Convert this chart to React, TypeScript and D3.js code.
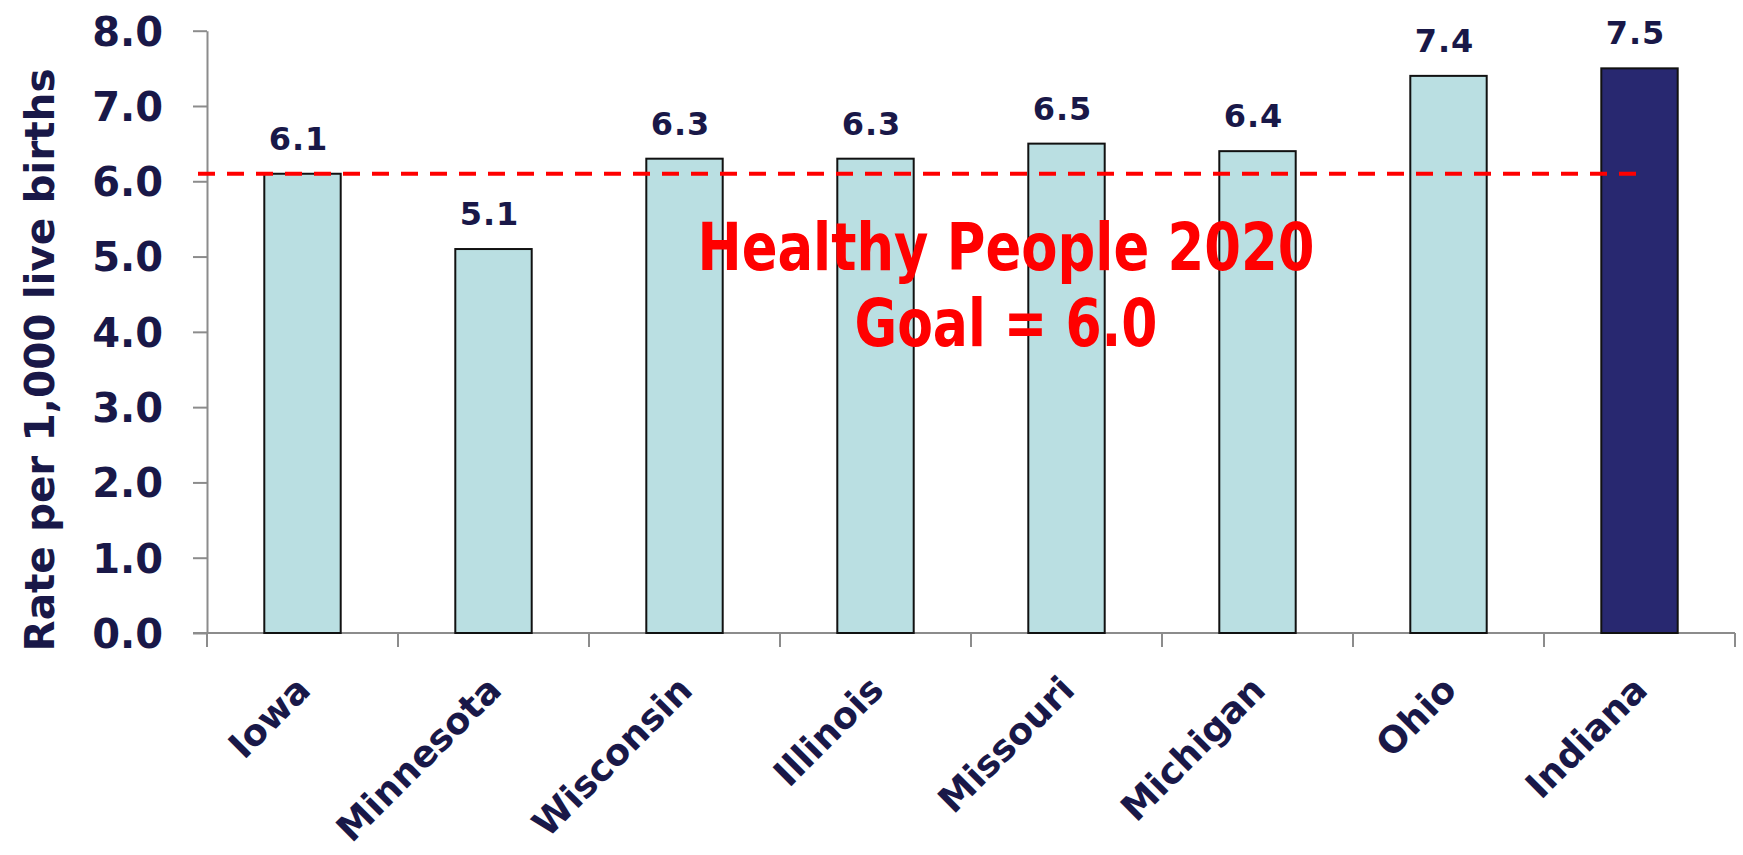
import React, { useEffect, useRef } from 'react';
import * as d3 from 'd3';

const states = ['Iowa', 'Minnesota', 'Wisconsin', 'Illinois', 'Missouri', 'Michigan', 'Ohio', 'Indiana'];
const rates = [6.1, 5.1, 6.3, 6.3, 6.5, 6.4, 7.4, 7.5];
const highlighted = ['Indiana'];
const yTicks = [0, 1, 2, 3, 4, 5, 6, 7, 8];
const goalLine = 6.1; // where the dashed line sits in the picture
const goalText = ['Healthy People 2020', 'Goal = 6.0'];
const yTitle = 'Rate per 1,000 live births';

const NAVY = '#191848';

function App() {
  const ref = useRef<SVGSVGElement | null>(null);

  useEffect(() => {
    if (!ref.current) return;
    const svg = d3.select(ref.current);
    svg.selectAll('*').remove();

    const W = 1743;
    const H = 855;
    const left = 207;
    const right = 1735;
    const top = 30.7;
    const bottom = 633;
    const font = 'DejaVu Sans, Verdana, sans-serif';

    svg.attr('width', W).attr('height', H);

    const x = d3.scaleBand<string>()
      .domain(states)
      .range([left, right])
      .paddingInner(0.6)
      .paddingOuter(0.3);
    const y = d3.scaleLinear().domain([0, 8]).range([bottom, top]);

    // y axis
    const yAxis = svg.append('g')
      .attr('transform', `translate(${left},0)`)
      .call(d3.axisLeft(y).tickValues(yTicks).tickFormat(d3.format('.1f')).tickSize(14).tickPadding(30).tickSizeOuter(0));
    yAxis.select('.domain').attr('stroke', '#8c8c8c').attr('stroke-width', 2);
    yAxis.selectAll('.tick line').attr('stroke', '#8c8c8c').attr('stroke-width', 2);
    yAxis.selectAll('.tick text')
      .attr('fill', NAVY)
      .style('font-family', font)
      .style('font-weight', 'bold')
      .style('font-size', '40px')
      .attr('dy', '0.36em');

    // x axis baseline and separators between categories
    const step = x.step();
    svg.append('line')
      .attr('x1', left - 14).attr('x2', right)
      .attr('y1', y(0)).attr('y2', y(0))
      .attr('stroke', '#8c8c8c').attr('stroke-width', 2);
    svg.append('g')
      .selectAll('line')
      .data(d3.range(states.length + 1))
      .join('line')
      .attr('x1', i => left + i * step)
      .attr('x2', i => left + i * step)
      .attr('y1', y(0))
      .attr('y2', y(0) + 14)
      .attr('stroke', '#8c8c8c').attr('stroke-width', 2);

    // bars
    svg.append('g')
      .selectAll('rect')
      .data(states)
      .join('rect')
      .attr('x', d => x(d)!)
      .attr('width', x.bandwidth())
      .attr('y', (d, i) => y(rates[i]))
      .attr('height', (d, i) => y(0) - y(rates[i]))
      .attr('fill', d => (highlighted.includes(d) ? '#282870' : '#badfe2'))
      .attr('stroke', '#111')
      .attr('stroke-width', 2);

    // value labels
    svg.append('g')
      .selectAll('text')
      .data(states)
      .join('text')
      .attr('x', d => x(d)! + x.bandwidth() / 2 - 4)
      .attr('y', (d, i) => y(rates[i]) - 24)
      .attr('text-anchor', 'middle')
      .attr('fill', NAVY)
      .style('font-family', font)
      .style('font-weight', 'bold')
      .style('font-size', '32px')
      .style('letter-spacing', '1px')
      .text((d, i) => d3.format('.1f')(rates[i]));

    // category labels
    svg.append('g')
      .selectAll('text')
      .data(states)
      .join('text')
      .attr('transform', d => `translate(${x(d)! + x.bandwidth() / 2 + 10},${y(0) + 59}) rotate(-45)`)
      .attr('text-anchor', 'end')
      .attr('fill', NAVY)
      .style('font-family', font)
      .style('font-weight', 'bold')
      .style('font-size', '36.5px')
      .text(d => d);

    // goal line
    svg.append('line')
      .attr('x1', left - 9)
      .attr('x2', x('Indiana')! + x.bandwidth() / 2)
      .attr('y1', y(goalLine))
      .attr('y2', y(goalLine))
      .attr('stroke', '#ff0000')
      .attr('stroke-width', 4)
      .attr('stroke-dasharray', '17 12');

    // goal annotation
    const lens = [617, 303];
    const baselines = [270, 346];
    svg.append('g')
      .selectAll('text')
      .data(goalText)
      .join('text')
      .attr('x', 1006)
      .attr('y', (d, i) => baselines[i])
      .attr('text-anchor', 'middle')
      .attr('textLength', (d, i) => lens[i])
      .attr('lengthAdjust', 'spacingAndGlyphs')
      .attr('fill', '#ff0000')
      .style('font-family', 'DejaVu Sans Condensed, DejaVu Sans, sans-serif')
      .style('font-weight', 'bold')
      .style('font-size', '66px')
      .text(d => d);

    // y axis title
    svg.append('text')
      .attr('transform', `translate(54,${(70 + 650) / 2}) rotate(-90)`)
      .attr('text-anchor', 'middle')
      .attr('fill', NAVY)
      .style('font-family', font)
      .style('font-weight', 'bold')
      .style('font-size', '40.5px')
      .text(yTitle);
  }, []);

  return (
    <svg ref={ref} style={{ position: 'absolute', left: 0, top: 0, background: '#fff' }} />
  );
}

export default App;
